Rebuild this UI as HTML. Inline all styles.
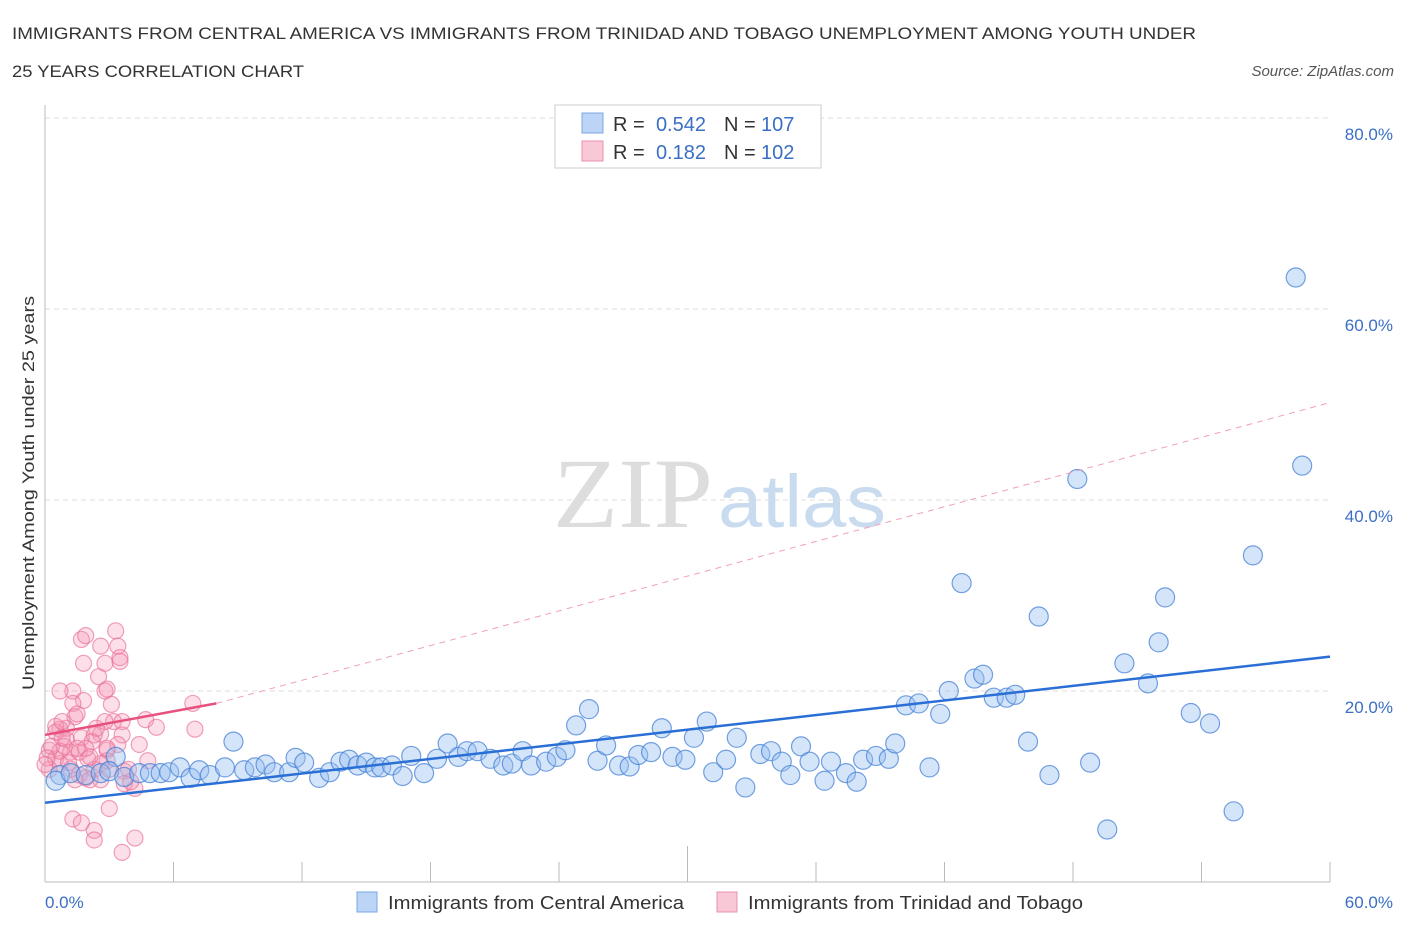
<!DOCTYPE html>
<html><head><meta charset="utf-8"><style>
body{margin:0;background:#fff;font-family:"Liberation Sans",sans-serif;}
</style></head><body>
<svg id="chart" width="1406" height="930" xmlns="http://www.w3.org/2000/svg" font-family="Liberation Sans, sans-serif">
<text x="12" y="39" font-size="17" fill="#333" textLength="1184" lengthAdjust="spacingAndGlyphs">IMMIGRANTS FROM CENTRAL AMERICA VS IMMIGRANTS FROM TRINIDAD AND TOBAGO UNEMPLOYMENT AMONG YOUTH UNDER</text>
<text x="12" y="77" font-size="17" fill="#333" textLength="292" lengthAdjust="spacingAndGlyphs">25 YEARS CORRELATION CHART</text>
<text x="1394" y="76" font-size="15" fill="#555" font-style="italic" text-anchor="end">Source: ZipAtlas.com</text>
<text x="553" y="527" font-size="100" fill="#ddd" font-family="Liberation Serif, serif" textLength="160" lengthAdjust="spacingAndGlyphs">ZIP</text>
<text x="718" y="527" font-size="74" fill="#c9dcef" textLength="168" lengthAdjust="spacingAndGlyphs">atlas</text>
<g id="grid"></g>
<g id="axes"></g>
<g id="marks"></g>
<text transform="translate(34,493) rotate(-90)" font-size="17" fill="#333" text-anchor="middle" textLength="394" lengthAdjust="spacingAndGlyphs">Unemployment Among Youth under 25 years</text>
<text x="45" y="908" font-size="17" fill="#3a6fc4">0.0%</text>
<text x="1393" y="908" font-size="17" fill="#3a6fc4" text-anchor="end">60.0%</text>
<g>
<rect x="555" y="105" width="266" height="63" fill="#fff" stroke="#ccc"/>
<rect x="582" y="113" width="21" height="20" fill="#bcd4f6" stroke="#7aa7e6"/>
<rect x="582" y="141" width="21" height="20" fill="#f9c8d6" stroke="#ec8fac"/>
<text x="613" y="131" font-size="20" fill="#333">R =</text>
<text x="706" y="131" font-size="20" fill="#3a6fc4" text-anchor="end">0.542</text>
<text x="724" y="131" font-size="20" fill="#333">N =</text>
<text x="761" y="131" font-size="20" fill="#3a6fc4">107</text>
<text x="613" y="159" font-size="20" fill="#333">R =</text>
<text x="706" y="159" font-size="20" fill="#3a6fc4" text-anchor="end">0.182</text>
<text x="724" y="159" font-size="20" fill="#333">N =</text>
<text x="761" y="159" font-size="20" fill="#3a6fc4">102</text>
</g>
<g>
<rect x="357" y="892" width="20" height="20" fill="#bcd4f6" stroke="#7aa7e6"/>
<text x="388" y="909" font-size="18" fill="#333" textLength="296" lengthAdjust="spacingAndGlyphs">Immigrants from Central America</text>
<rect x="717" y="892" width="20" height="20" fill="#f9c8d6" stroke="#ec8fac"/>
<text x="748" y="909" font-size="18" fill="#333" textLength="335" lengthAdjust="spacingAndGlyphs">Immigrants from Trinidad and Tobago</text>
</g>
</svg>
<script>
const yTicks=[20,40,60,80];
const yTickLabels=["20.0%","40.0%","60.0%","80.0%"];
const xTicks=[0,6,12,18,24,30,36,42,48,54,60];
const blueX=[0.7,0.5,1.2,1.9,2.6,3.3,3.0,3.7,4.4,4.9,5.4,5.8,6.3,6.8,7.2,7.7,8.4,8.8,9.3,9.8,10.3,10.7,11.4,11.7,12.1,12.8,13.3,13.8,14.2,14.6,15.0,15.4,15.7,16.2,16.7,17.1,17.7,18.3,18.8,19.3,19.7,20.2,20.8,21.4,21.8,22.3,22.7,23.4,23.9,24.3,24.8,25.4,25.8,26.2,26.8,27.3,27.7,28.3,28.8,29.3,29.9,30.3,30.9,31.2,31.8,32.3,32.7,33.4,33.9,34.4,34.8,35.3,35.7,36.4,36.7,37.4,37.9,38.2,38.8,39.4,39.7,40.2,40.8,41.3,41.8,42.2,42.8,43.4,43.8,44.3,44.9,45.3,45.9,46.4,46.9,48.2,48.8,49.6,50.4,51.5,52.0,52.3,53.5,54.4,55.5,56.4,58.4,58.7];
const blueY=[11.2,10.6,11.4,11.2,11.4,13.1,11.6,11.0,11.4,11.4,11.4,11.5,12.0,10.9,11.7,11.2,12.0,14.7,11.7,12.0,12.3,11.5,11.5,13.0,12.5,10.9,11.5,12.6,12.8,12.2,12.5,12.0,12.0,12.2,11.1,13.2,11.4,12.9,14.5,13.1,13.7,13.7,12.9,12.2,12.4,13.7,12.2,12.6,13.1,13.8,16.4,18.1,12.7,14.3,12.2,12.1,13.3,13.6,16.1,13.1,12.8,15.1,16.8,11.5,12.8,15.1,9.9,13.4,13.7,12.6,11.2,14.2,12.6,10.6,12.6,11.4,10.5,12.8,13.2,12.9,14.5,18.5,18.7,12.0,17.6,20.0,31.3,21.3,21.7,19.3,19.3,19.6,14.7,27.8,11.2,42.2,12.5,5.5,22.9,20.8,25.1,29.8,17.7,16.6,7.4,34.2,63.3,43.6];
const pinkX=[1.7,1.9,3.3,2.6,3.4,3.5,3.5,1.8,2.8,2.5,1.3,0.7,2.8,1.8,2.9,3.1,1.3,1.4,1.5,3.2,1.0,0.7,0.5,1.0,1.7,2.6,2.3,3.6,4.7,5.2,6.9,7.0,3.6,2.9,2.2,0.2,0.5,0.7,0.2,1.2,1.6,2.0,2.3,2.9,1.6,1.9,2.1,2.6,3.0,3.7,4.8,4.2,3.9,3.7,4.0,3.0,1.3,1.7,2.3,2.3,4.2,3.6,2.6,0.9,0.7,0.3,1.2,1.4,0.5,0.8,0.1,0.0,2.1,1.9,2.4,2.8,3.4,4.4,2.9,0.8,1.1,1.5];
const pinkY=[25.4,25.8,26.3,24.7,24.7,23.5,23.1,22.9,22.9,21.5,20.0,20.0,20.0,19.0,20.2,18.6,18.7,17.3,17.6,16.8,16.1,16.0,15.7,14.9,15.1,15.5,15.4,16.8,17.0,16.2,18.7,16.0,15.4,13.8,14.7,13.8,12.9,12.4,11.8,13.6,13.6,12.9,11.8,12.7,11.2,10.9,10.7,10.7,11.8,11.6,12.7,9.8,11.8,10.3,10.5,7.7,6.6,6.2,5.4,4.4,4.6,3.1,12.4,14.2,13.7,14.2,11.8,10.7,16.3,16.8,13.0,12.3,13.1,14.0,16.1,16.8,14.4,14.4,14.0,15.1,12.5,14.0];
const blueTrend=[[0,8.3],[60,23.6]];
const pinkTrendSolid=[[0,15.4],[8.0,18.7]];
const pinkTrendDash=[[8.0,18.7],[60,50.2]];
const X=v=>45+v/60*1285;
const Y=v=>882-v/20*191;
const NS="http://www.w3.org/2000/svg";
function mk(tag,attrs,parent){const e=document.createElementNS(NS,tag);for(const k in attrs)e.setAttribute(k,attrs[k]);parent.appendChild(e);return e;}
const grid=document.getElementById('grid'),axes=document.getElementById('axes'),marks=document.getElementById('marks');
yTicks.forEach((t,i)=>{
 const l=mk('line',{x1:45,x2:1330,y1:Y(t),y2:Y(t),stroke:'#ddd','stroke-dasharray':'5,4'},grid);
 
 
 const tx=mk('text',{x:1393,y:Y(t)+22,'font-size':17,fill:'#3a6fc4','text-anchor':'end'},grid);
 tx.textContent=yTickLabels[i];
 
 
});
const ax=mk('line',{x1:45,x2:45,y1:105,y2:882,stroke:'#bbb'},axes);


const bx=mk('line',{x1:45,x2:1330,y1:882,y2:882,stroke:'#bbb'},axes);


xTicks.forEach((t,i)=>{
 const tk=mk('line',{x1:X(t),x2:X(t),y1:(i===5?846:862),y2:882,stroke:'#bbb'},axes);
 
 
});
pinkX.forEach((v,i)=>{
 const c=mk('circle',{cx:X(v),cy:Y(pinkY[i]),r:8,fill:'rgba(244,150,180,0.3)',stroke:'rgba(232,110,150,0.65)','stroke-width':1.2},marks);
 
 
});
blueX.forEach((v,i)=>{
 const c=mk('circle',{cx:X(v),cy:Y(blueY[i]),r:9.5,fill:'rgba(150,190,240,0.4)',stroke:'rgba(70,130,215,0.75)','stroke-width':1.2},marks);
 
 
});
const bt=mk('line',{x1:X(blueTrend[0][0]),y1:Y(blueTrend[0][1]),x2:X(blueTrend[1][0]),y2:Y(blueTrend[1][1]),stroke:'#2a6fd6','stroke-width':2.5},marks);


const pd=mk('line',{x1:X(pinkTrendDash[0][0]),y1:Y(pinkTrendDash[0][1]),x2:X(pinkTrendDash[1][0]),y2:Y(pinkTrendDash[1][1]),stroke:'#f0a0b8','stroke-width':1,'stroke-dasharray':'6,5'},marks);


const ps=mk('line',{x1:X(pinkTrendSolid[0][0]),y1:Y(pinkTrendSolid[0][1]),x2:X(pinkTrendSolid[1][0]),y2:Y(pinkTrendSolid[1][1]),stroke:'#e8507e','stroke-width':2.5},marks);


</script>
</body></html>
